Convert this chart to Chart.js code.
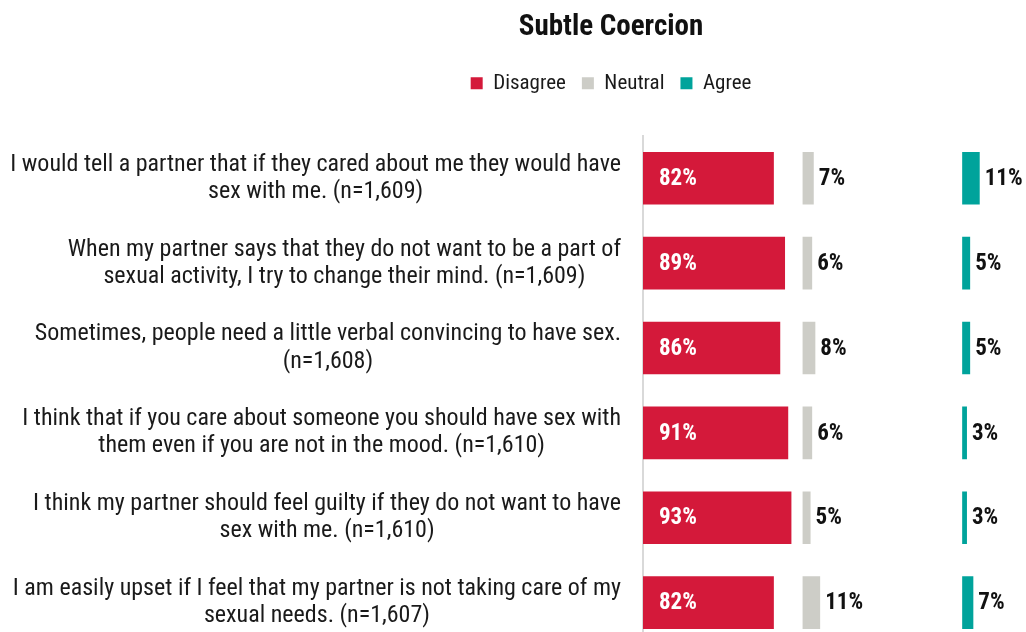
<!DOCTYPE html>
<html>
<head>
<meta charset="utf-8">
<script src="https://cdn.jsdelivr.net/npm/chart.js@4.4.1/dist/chart.umd.min.js"></script>
<style>
  html, body { margin: 0; padding: 0; background: #fff; overflow: hidden; }
  canvas { display: block; }
</style>
</head>
<body>
<canvas id="chart" width="1026" height="645"></canvas>
<script>
// statements (two lines each, as wrapped in the original)
const statements = [
  ['I would tell a partner that if they cared about me they would have', 'sex with me. (n=1,609)'],
  ['When my partner says that they do not want to be a part of', 'sexual activity, I try to change their mind. (n=1,609)'],
  ['Sometimes, people need a little verbal convincing to have sex.', '(n=1,608)'],
  ['I think that if you care about someone you should have sex with', 'them even if you are not in the mood. (n=1,610)'],
  ['I think my partner should feel guilty if they do not want to have', 'sex with me. (n=1,610)'],
  ['I am easily upset if I feel that my partner is not taking care of my', 'sexual needs. (n=1,607)']
];
const seriesNames = ['Disagree', 'Neutral', 'Agree'];
const disagree = [82, 89, 86, 91, 93, 82];
const neutral = [7, 6, 8, 6, 5, 11];
const agree = [11, 5, 5, 3, 3, 7];
const colors = ['#D4193A', '#CDCDC7', '#00A39B'];

const FONT = '"Roboto Condensed", "Liberation Sans Narrow", "DejaVu Sans Condensed", Roboto, sans-serif';
const seriesValues = [disagree, neutral, agree];
// each answer gets its own 0-100 panel on the same axis
const panelStart = [0, 100, 200];

const datasets = seriesValues.map((vals, i) => ({
  label: seriesNames[i],
  data: vals.map(v => [panelStart[i], panelStart[i] + v]),
  backgroundColor: colors[i],
  borderWidth: 0
}));

// title + legend sit right of the canvas centre in the original,
// legend is pulled up a bit to leave room above the bars
const shiftHeader = {
  id: 'shiftHeader',
  afterLayout(chart) {
    const dx = 98;
    [chart.titleBlock, chart.legend].forEach(b => {
      if (b) { b.left += dx; b.right += dx; }
    });
    if (chart.legend) {
      chart.legend.top -= 32;
      chart.legend.bottom -= 32;
    }
  }
};

// category labels: block is right aligned to the axis, lines centred inside it
const centerTickLines = {
  id: 'centerTickLines',
  beforeDraw(chart) {
    const scale = chart.scales.y;
    const ctx = chart.ctx;
    const items = scale.getLabelItems(chart.chartArea);
    ctx.save();
    items.forEach(item => {
      if (item.options.textAlign !== 'right') return;
      ctx.font = item.font.string;
      const lines = Array.isArray(item.label) ? item.label : [item.label];
      const w = Math.max(...lines.map(l => ctx.measureText(l).width));
      item.options.translation[0] -= w / 2;
      item.options.textAlign = 'center';
    });
    ctx.restore();
  }
};

const valueLabels = {
  id: 'valueLabels',
  afterDatasetsDraw(chart) {
    const ctx = chart.ctx;
    ctx.save();
    ctx.font = 'bold 23px ' + FONT;
    ctx.textBaseline = 'middle';
    ctx.textAlign = 'left';
    seriesValues.forEach((vals, i) => {
      const meta = chart.getDatasetMeta(i);
      meta.data.forEach((bar, j) => {
        const text = vals[j] + '%';
        if (i === 0) {
          ctx.fillStyle = '#ffffff';
          ctx.fillText(text, bar.base + 16, bar.y + 1);
        } else {
          ctx.fillStyle = '#111111';
          ctx.fillText(text, bar.x + 5, bar.y + 1);
        }
      });
    });
    ctx.restore();
  }
};

new Chart(document.getElementById('chart'), {
  type: 'bar',
  data: { labels: statements, datasets: datasets },
  options: {
    indexAxis: 'y',
    responsive: false,
    animation: false,
    layout: { padding: 0 },
    datasets: {
      bar: { grouped: false, barPercentage: 0.62, categoryPercentage: 1 }
    },
    scales: {
      x: { display: false, min: 0, max: 240 },
      y: {
        offset: true,
        grid: { display: false, drawTicks: false },
        border: { color: '#d9d9d9', width: 2 },
        ticks: {
          color: '#1a1a1a',
          padding: 22,
          font: { family: FONT, size: 24, lineHeight: 1.13 }
        },
        afterFit(scale) {
          scale.width = 643;
          // labels sit on band centres, no overflow room needed
          scale.paddingTop = 0;
          scale.paddingBottom = 0;
        }
      }
    },
    plugins: {
      title: {
        display: true,
        text: 'Subtle Coercion',
        color: '#111111',
        font: { family: FONT, size: 29, weight: 'bold', lineHeight: 1.2 },
        padding: { top: 10, bottom: 44 }
      },
      legend: {
        position: 'top',
        labels: {
          color: '#1a1a1a',
          boxWidth: 12,
          boxHeight: 12,
          padding: 16,
          font: { family: FONT, size: 21 }
        }
      },
      tooltip: { enabled: false }
    }
  },
  plugins: [shiftHeader, centerTickLines, valueLabels]
});
</script>
</body>
</html>
